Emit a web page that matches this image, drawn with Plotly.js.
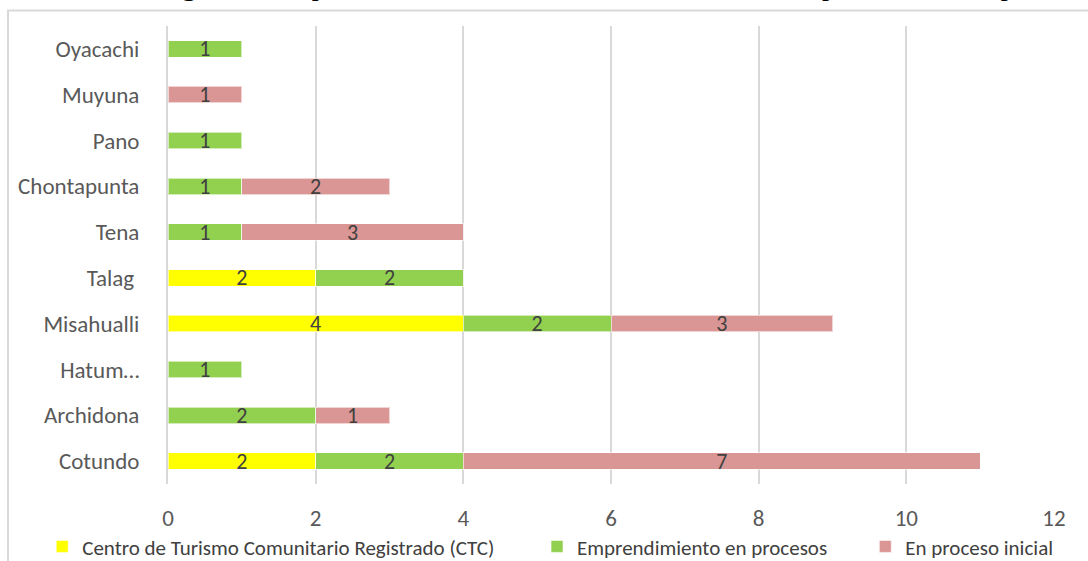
<!DOCTYPE html>
<html>
<head>
<meta charset="utf-8">
<script src="https://cdn.plot.ly/plotly-3.0.1.min.js"></script>
<style>html,body{margin:0;padding:0;background:#fff;}#chart{width:1088px;height:561px;}</style>
</head>
<body>
<div id="chart"></div>
<script>
var categories = ["Cotundo", "Archidona", "Hatum…", "Misahualli", "Talag ", "Tena", "Chontapunta", "Pano", "Muyuna", "Oyacachi"];
var ctc = [2, null, null, 4, 2, null, null, null, null, null];
var emprendimiento = [2, 2, 1, 2, 2, 1, 1, 1, null, 1];
var inicial = [7, 1, null, 3, null, 3, 2, null, 1, null];
var seriesNames = ["Centro de Turismo Comunitario Registrado (CTC)", "Emprendimiento en procesos", "En proceso inicial"];
var xTicks = [0, 2, 4, 6, 8, 10, 12];
var titleText = "<b>Figura 3.</b> Emprendimientos de Turismo Comunitario en la provincia de Napo";

var FONT = "Liberation Sans Narrow, Carlito, Open Sans, sans-serif";
function mk(vals, name, color, legendId) {
  return {
    type: "bar", orientation: "h", y: categories, x: vals, name: name,
    marker: {color: color, line: {color: "rgba(255,255,255,0.6)", width: 1}},
    text: vals.map(function(v){ return v == null ? "" : String(v); }),
    texttemplate: "%{text}",
    textposition: "inside", insidetextanchor: "middle", textangle: 0,
    constraintext: "none",
    textfont: {family: FONT, size: 22, color: "#404040"},
    hoverinfo: "x+y+name",
    legend: legendId
  };
}
var data = [
  mk(ctc, seriesNames[0], "#FFFF00", "legend"),
  mk(emprendimiento, seriesNames[1], "#92D050", "legend2"),
  mk(inicial, seriesNames[2], "#DA9694", "legend3")
];
function leg(x) {
  return {x: x, xanchor: "left", y: -0.137, yanchor: "middle", orientation: "h",
    font: {family: FONT, size: 21, color: "#404040"}, bgcolor: "rgba(0,0,0,0)", itemwidth: 30};
}
var layout = {
  width: 1088, height: 561,
  margin: {l: 168, r: 34, t: 26, b: 77, autoexpand: false},
  paper_bgcolor: "#fff", plot_bgcolor: "#fff",
  barmode: "stack", bargap: 0.64,
  showlegend: true,
  xaxis: {range: [0, 12], tickvals: xTicks, ticktext: xTicks.map(String), showgrid: true, gridcolor: "#d9d9d9", gridwidth: 2,
    zeroline: false, showline: false, ticks: "", ticklabelstandoff: 18,
    tickfont: {family: FONT, size: 23, color: "#595959"}, fixedrange: true},
  yaxis: {type: "category", categoryorder: "array", categoryarray: categories, showgrid: false, zeroline: false,
    showline: true, linecolor: "#d9d9d9", linewidth: 2, ticks: "", ticklabelstandoff: 22,
    tickfont: {family: FONT, size: 23, color: "#595959"}, fixedrange: true},
  legend: leg(-0.142), legend2: leg(0.4165), legend3: leg(0.787),
  annotations: [{text: titleText, xref: "paper", yref: "paper", x: (593 - 168) / 886, xanchor: "center",
    y: (484 - 3) / 458, yanchor: "bottom", showarrow: false,
    font: {family: "Liberation Serif, Times New Roman, serif", size: 28, color: "#000"}}],
  shapes: [{type: "rect", xref: "paper", yref: "paper", x0: -0.1806, x1: 1.2, y0: -0.4, y1: 1.0338,
    line: {color: "#d9d9d9", width: 2}, fillcolor: "rgba(0,0,0,0)", layer: "below"}]
};
Plotly.newPlot("chart", data, layout, {displayModeBar: false});
</script>
</body>
</html>
